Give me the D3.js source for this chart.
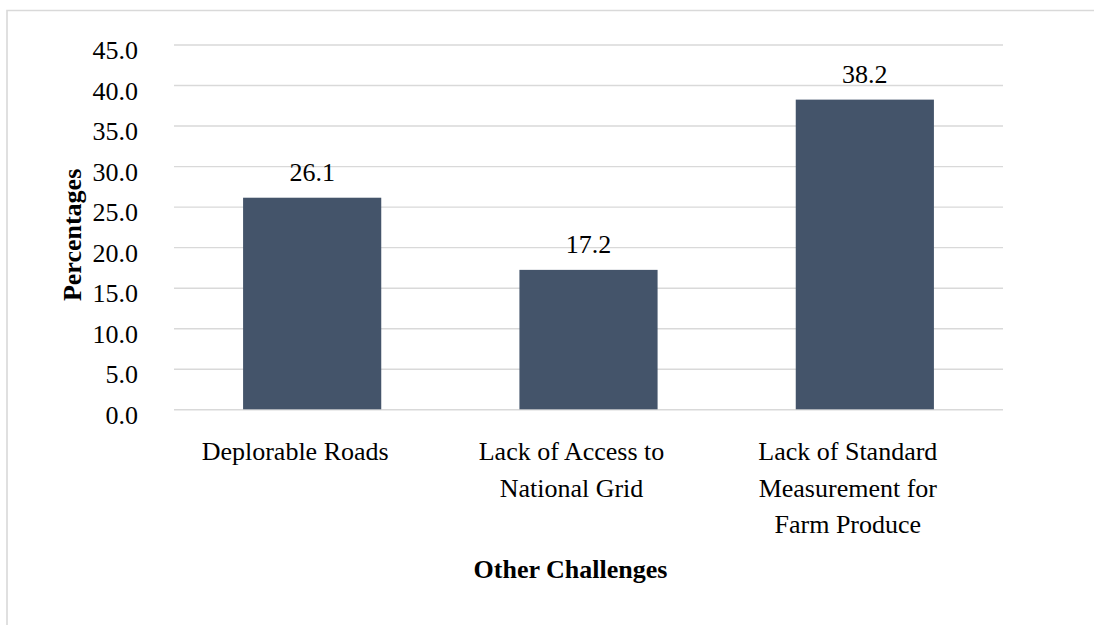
<!DOCTYPE html>
<html>
<head>
<meta charset="utf-8">
<script src="https://cdn.jsdelivr.net/npm/d3@7"></script>
<style>
  html, body { margin: 0; padding: 0; background: #fff; }
  svg { display: block; }
  text { font-family: "Liberation Serif", "Times New Roman", serif; fill: #000; }
</style>
</head>
<body>
<svg id="chart" width="1094" height="625"></svg>
<script>
// Survey results: share of respondents citing each challenge
const categories = [
  ["Deplorable Roads"],
  ["Lack of Access to", "National Grid"],
  ["Lack of Standard", "Measurement for", "Farm Produce"]
];
const values = [26.1, 17.2, 38.2];
const yTicks = [0, 5, 10, 15, 20, 25, 30, 35, 40, 45];
const xTitle = "Other Challenges";
const yTitle = "Percentages";

const svg = d3.select("#chart");
const W = 1094, H = 625;
const plot = { left: 174, right: 1003, top: 44.5, bottom: 409.3 };

// outer frame (top and left edges visible)
svg.append("path")
  .attr("d", `M7,${H} L7,10.5 L${W},10.5`)
  .attr("fill", "none")
  .attr("stroke", "#d9d9d9")
  .attr("stroke-width", 1.6);

const keys = categories.map((c, i) => i);
const x = d3.scaleBand()
  .domain(keys)
  .range([plot.left, plot.right])
  .paddingInner(0.5)
  .paddingOuter(0.25);

const y = d3.scaleLinear()
  .domain([0, 45])
  .range([plot.bottom, plot.top]);

// gridlines and y tick labels
const yAxis = d3.axisLeft(y)
  .tickValues(yTicks)
  .tickSize(-(plot.right - plot.left))
  .tickPadding(0)
  .tickFormat(d3.format(".1f"));

const gy = svg.append("g")
  .attr("transform", `translate(${plot.left},0)`)
  .call(yAxis);
gy.select(".domain").remove();
gy.selectAll(".tick line")
  .attr("stroke", "#d9d9d9")
  .attr("stroke-width", 1.4);
gy.selectAll(".tick text")
  .attr("x", 138 - plot.left)
  .attr("dy", 14)
  .attr("text-anchor", "end")
  .style("font-family", "'Liberation Serif', 'Times New Roman', serif")
  .style("font-size", "26px")
  .attr("fill", "#000");

// bars
svg.append("g").selectAll("rect")
  .data(values)
  .join("rect")
  .attr("x", (d, i) => x(i))
  .attr("width", x.bandwidth())
  .attr("y", d => y(d))
  .attr("height", d => y(0) - y(d))
  .attr("fill", "#44546a");

// value labels
svg.append("g").selectAll("text")
  .data(values)
  .join("text")
  .attr("x", (d, i) => x(i) + x.bandwidth() / 2)
  .attr("y", d => y(d) - 16.5)
  .attr("text-anchor", "middle")
  .style("font-size", "26px")
  .text(d => d.toFixed(1));

// category labels (wrapped lines)
const cat = svg.append("g").selectAll("text")
  .data(categories)
  .join("text")
  .attr("text-anchor", "middle")
  .style("font-size", "26px");
cat.each(function (lines, i) {
  const cx = x(i) + x.bandwidth() / 2 - 17;
  d3.select(this).selectAll("tspan")
    .data(lines)
    .join("tspan")
    .attr("x", cx)
    .attr("y", (l, j) => 460 + j * 36.5)
    .text(l => l);
});

// axis titles
svg.append("text")
  .attr("x", (plot.left + plot.right) / 2 - 18)
  .attr("y", 578)
  .attr("text-anchor", "middle")
  .style("font-size", "26px")
  .style("font-weight", "bold")
  .text(xTitle);

svg.append("text")
  .attr("transform", `translate(81,${(plot.top + plot.bottom) / 2 + 8}) rotate(-90)`)
  .attr("text-anchor", "middle")
  .style("font-size", "26px")
  .style("font-weight", "bold")
  .text(yTitle);
</script>
</body>
</html>
